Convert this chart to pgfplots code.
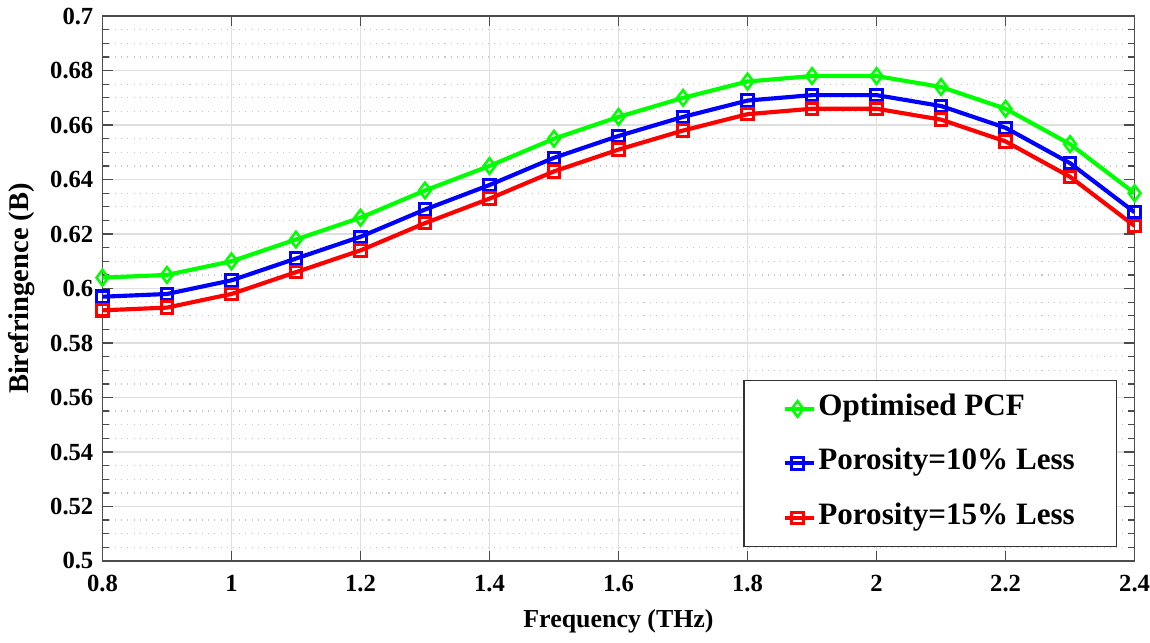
\documentclass[border=0pt]{standalone}
\usepackage{fontspec}
\setmainfont{Liberation Serif}
\usepackage{pgfplots}
\pgfplotsset{compat=1.18}
\definecolor{mgreen}{RGB}{0,255,0}
\definecolor{mblue}{RGB}{0,0,255}
\definecolor{mred}{RGB}{255,0,0}

\begin{document}
\begin{tikzpicture}
\begin{axis}[scale only axis,width=14cm,height=7.39cm,
xmin=0.8,xmax=2.4,ymin=0.5,ymax=0.7,
xtick={0.8,1,1.2,1.4,1.6,1.8,2,2.2,2.4},
ytick={0.5,0.52,0.54,0.56,0.58,0.6,0.62,0.64,0.66,0.68,0.7},
minor y tick num=3,
xticklabels={0.8,1,1.2,1.4,1.6,1.8,2,2.2,2.4},
yticklabels={0.5,0.52,0.54,0.56,0.58,0.6,0.62,0.64,0.66,0.68,0.7},
tick align=inside,major tick length=4pt,minor tick length=2.5pt,
axis line style={black!70,line width=0.6pt},
tick style={black!70,line width=0.5pt},
grid=both,
major grid style={gray!25,line width=0.5pt},
minor grid style={gray!45,dotted,line width=0.5pt},
tick label style={font=\bfseries\fontsize{9.5}{11}\selectfont},
xticklabel style={inner xsep=0pt,yshift=-2pt},
yticklabel style={inner ysep=3pt},
xlabel style={font=\bfseries\fontsize{10}{12}\selectfont,yshift=0pt},
ylabel style={font=\bfseries\fontsize{11}{12}\selectfont,yshift=-1pt},
xlabel={Frequency (THz)},ylabel={Birefringence (B)},
legend style={at={(0.983,0.0255)},anchor=south east,draw=black!80,line width=0.6pt,
 font=\bfseries\fontsize{12}{14}\selectfont,row sep=11pt,
 inner xsep=15pt,inner ysep=6pt,
 nodes={inner xsep=1pt,inner ysep=0pt,text height=0.75em,text depth=0.25em}},
legend cell align=left,
legend image code/.code={\draw[#1] (0cm,0cm) -- (0.39cm,0cm); \draw[#1,only marks] plot coordinates {(0.17cm,0cm)};}]
\addplot[mgreen,line width=1.6pt,mark=diamond,mark size=3pt,mark options={solid,line width=1pt,fill=white}] coordinates {(0.8,0.604) (0.9,0.605) (1.0,0.610) (1.1,0.618) (1.2,0.626) (1.3,0.636) (1.4,0.645) (1.5,0.655) (1.6,0.663) (1.7,0.670) (1.8,0.676) (1.9,0.678) (2.0,0.678) (2.1,0.674) (2.2,0.666) (2.3,0.653) (2.4,0.635)};
\addlegendentry{Optimised PCF}
\addplot[mblue,line width=1.6pt,mark=square,mark size=2.2pt,mark options={solid,line width=1.2pt,fill=white}] coordinates {(0.8,0.597) (0.9,0.598) (1.0,0.603) (1.1,0.611) (1.2,0.619) (1.3,0.629) (1.4,0.638) (1.5,0.648) (1.6,0.656) (1.7,0.663) (1.8,0.669) (1.9,0.671) (2.0,0.671) (2.1,0.667) (2.2,0.659) (2.3,0.646) (2.4,0.628)};
\addlegendentry{Porosity=10\% Less}
\addplot[mred,line width=1.6pt,mark=square,mark size=2.2pt,mark options={solid,line width=1.2pt,fill=white}] coordinates {(0.8,0.592) (0.9,0.593) (1.0,0.598) (1.1,0.606) (1.2,0.614) (1.3,0.624) (1.4,0.633) (1.5,0.643) (1.6,0.651) (1.7,0.658) (1.8,0.664) (1.9,0.666) (2.0,0.666) (2.1,0.662) (2.2,0.654) (2.3,0.641) (2.4,0.623)};
\addlegendentry{Porosity=15\% Less}
\end{axis}
\end{tikzpicture}
\end{document}
